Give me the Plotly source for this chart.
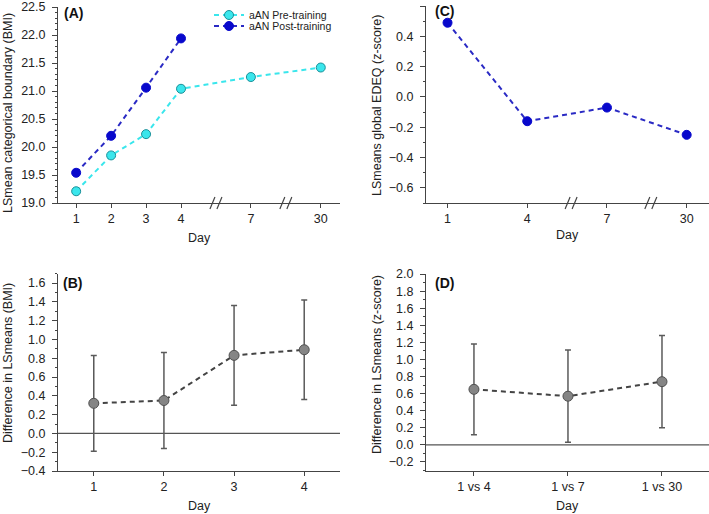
import plotly.graph_objects as go

# ---------------- data ----------------
# Panel A
days_A = ["1", "2", "3", "4", "7", "30"]
pre_training = [19.21, 19.85, 20.23, 21.04, 21.25, 21.42]
days_A_post = ["1", "2", "3", "4"]
post_training = [19.54, 20.20, 21.06, 21.94]

# Panel B
days_B = ["1", "2", "3", "4"]
diff_B = [0.32, 0.35, 0.83, 0.89]
diff_B_low = [-0.19, -0.16, 0.30, 0.36]
diff_B_high = [0.83, 0.86, 1.36, 1.42]

# Panel C
days_C = ["1", "4", "7", "30"]
edeq_C = [0.49, -0.16, -0.07, -0.25]

# Panel D
comp_D = ["1 vs 4", "1 vs 7", "1 vs 30"]
diff_D = [0.65, 0.57, 0.74]
diff_D_low = [0.12, 0.03, 0.20]
diff_D_high = [1.18, 1.11, 1.28]

# broken-axis slot layout (slots left empty are axis breaks)
slots_A = ["1", "2", "3", "4", None, "7", None, "30"]


def slot_scale(slots):
    pos = {}
    p = 1
    for s in slots:
        if s is not None:
            pos[s] = p
        p += 1
    breaks = [i + 1 for i, s in enumerate(slots) if s is None]
    return pos, breaks


posA, breaksA = slot_scale(slots_A)
posC = {d: i + 1 for i, d in enumerate(days_C)}
breaksC = [2.55, 3.55]

FONT = "Arial, 'Liberation Sans', sans-serif"
AXC = "#444444"
CYAN = "#3ae6ec"
CYAN_EDGE = "#1a9099"
BLUE = "#0808cc"
BLUE_LINE = "#2a2ac4"
GREY = "#858585"
GREY_EDGE = "#505050"
DASH = "5px,4px"

W, H = 709, 514


def px_x(a, b):
    return [a / W, b / W]


def px_y(top, bottom):
    return [1 - bottom / H, 1 - top / H]


def pxp(x, y):
    return x / W, 1 - y / H


fig = go.Figure()

# Panel A
fig.add_trace(go.Scatter(
    x=[posA[d] for d in days_A], y=pre_training, name="aAN Pre-training",
    mode="lines+markers", xaxis="x", yaxis="y", legend="legend",
    line=dict(color=CYAN, width=2, dash=DASH),
    marker=dict(size=9, color=CYAN, line=dict(color=CYAN_EDGE, width=1)),
))
fig.add_trace(go.Scatter(
    x=[posA[d] for d in days_A_post], y=post_training, name="aAN Post-training",
    mode="lines+markers", xaxis="x", yaxis="y", legend="legend2",
    line=dict(color=BLUE_LINE, width=2, dash=DASH),
    marker=dict(size=9, color=BLUE, line=dict(color=BLUE, width=1)),
))

# Panel B
fig.add_trace(go.Scatter(
    x=[int(d) for d in days_B], y=diff_B, mode="lines+markers", showlegend=False,
    xaxis="x2", yaxis="y2",
    line=dict(color="#444444", width=2, dash=DASH),
    marker=dict(size=10, color=GREY, line=dict(color=GREY_EDGE, width=1)),
    error_y=dict(type="data", symmetric=False,
                 array=[h - v for h, v in zip(diff_B_high, diff_B)],
                 arrayminus=[v - l for v, l in zip(diff_B, diff_B_low)],
                 color="#5a5a5a", thickness=1.5, width=3),
))

# Panel C
fig.add_trace(go.Scatter(
    x=[posC[d] for d in days_C], y=edeq_C, mode="lines+markers", showlegend=False,
    xaxis="x3", yaxis="y3",
    line=dict(color=BLUE_LINE, width=2, dash=DASH),
    marker=dict(size=9, color=BLUE, line=dict(color=BLUE, width=1)),
))

# Panel D
fig.add_trace(go.Scatter(
    x=comp_D, y=diff_D, mode="lines+markers", showlegend=False,
    xaxis="x4", yaxis="y4",
    line=dict(color="#444444", width=2, dash=DASH),
    marker=dict(size=10, color=GREY, line=dict(color=GREY_EDGE, width=1)),
    error_y=dict(type="data", symmetric=False,
                 array=[h - v for h, v in zip(diff_D_high, diff_D)],
                 arrayminus=[v - l for v, l in zip(diff_D, diff_D_low)],
                 color="#5a5a5a", thickness=1.5, width=3),
))

tickfont = dict(family=FONT, size=12.5, color="#222222")


def xaxis(domain, anchor, **kw):
    d = dict(domain=domain, anchor=anchor, showline=True, linecolor=AXC, linewidth=1,
             ticks="outside", ticklen=4, tickcolor=AXC, showgrid=False, zeroline=False,
             tickfont=tickfont, automargin=False, fixedrange=True)
    d.update(kw)
    return d


def yaxis(domain, anchor, rng, dtick, minor, **kw):
    d = dict(domain=domain, anchor=anchor, range=rng, dtick=dtick, tick0=0,
             showline=True, linecolor=AXC, linewidth=1,
             ticks="outside", ticklen=5, tickcolor=AXC, showgrid=False, zeroline=False,
             tickfont=tickfont, automargin=False, fixedrange=True, ticklabelstandoff=4,
             minor=dict(dtick=minor, ticks="outside", ticklen=2.5, tickcolor=AXC, showgrid=False))
    d.update(kw)
    return d


lx1, ly1 = pxp(209, 15)
lx2, ly2 = pxp(209, 26)
legfont = dict(family=FONT, size=10.5, color="#222222")

fig.update_layout(
    width=W, height=H, margin=dict(l=0, r=0, t=0, b=0),
    paper_bgcolor="white", plot_bgcolor="white",
    font=dict(family=FONT, size=12, color="#222222"),
    xaxis=xaxis(px_x(58, 340), "y", range=[0.48, 8.55], tickmode="array",
                tickvals=[posA[d] for d in days_A], ticktext=days_A),
    yaxis=yaxis(px_y(7, 203), "x", [19.0, 22.501], 0.5, 0.1, tickformat=".1f"),
    xaxis2=xaxis(px_x(58, 340), "y2", range=[0.49, 4.51], tickmode="array",
                 tickvals=[int(d) for d in days_B], ticktext=days_B),
    yaxis2=yaxis(px_y(273.6, 471), "x2", [-0.4, 1.7], 0.2, 0.1, tickformat=".1f"),
    xaxis3=xaxis(px_x(426, 709), "y3", range=[0.73, 4.28], tickmode="array",
                 tickvals=[posC[d] for d in days_C], ticktext=days_C),
    yaxis3=yaxis(px_y(6, 203), "x3", [-0.7, 0.6005], 0.2, 0.1, tickformat=".1f"),
    xaxis4=xaxis(px_x(426, 709), "y4", type="category", range=[-0.51, 2.5]),
    yaxis4=yaxis(px_y(274, 470.5), "x4", [-0.3, 2.0005], 0.2, 0.1, tickformat=".1f"),
    legend=dict(x=lx1, y=ly1, xanchor="left", yanchor="middle", font=legfont,
                bgcolor="rgba(0,0,0,0)", itemwidth=30),
    legend2=dict(x=lx2, y=ly2, xanchor="left", yanchor="middle", font=legfont,
                 bgcolor="rgba(0,0,0,0)", itemwidth=30),
    showlegend=True,
)

# zero reference lines in B and D
for xr, yr in (("x2 domain", "y2"), ("x4 domain", "y4")):
    fig.add_shape(type="line", xref=xr, yref=yr, x0=0, x1=1, y0=0, y1=0,
                  line=dict(color="#555555", width=1.2), layer="below")

# axis-break marks (double slashes)
for xr, yr, brks in (("x", "y domain", breaksA), ("x3", "y3 domain", breaksC)):
    for b in brks:
        for off in (-3.5, 3.5):
            fig.add_shape(type="line", xref=xr, yref=yr,
                          xsizemode="pixel", xanchor=b, x0=off - 2.5, x1=off + 2.5,
                          ysizemode="pixel", yanchor=0, y0=-6, y1=6,
                          line=dict(color=AXC, width=1.2))

# panel letters
for txt, xp, yp in (("(A)", 62, 13), ("(B)", 61, 283), ("(C)", 433, 11), ("(D)", 433, 283)):
    ax_, ay_ = pxp(xp, yp)
    fig.add_annotation(text=f"<b>{txt}</b>", x=ax_, y=ay_, xref="paper", yref="paper",
                       xanchor="left", yanchor="middle", showarrow=False,
                       font=dict(family=FONT, size=14, color="#111111"))

# axis titles
ytitles = (("LSmean categorical boundary (BMI)", 8, 113),
           ("Difference in LSmeans (BMI)", 8, 363),
           ("LSmeans global EDEQ (z-score)", 377, 105),
           ("Difference in LSmeans (z-score)", 377, 364))
for txt, xp, yp in ytitles:
    ax_, ay_ = pxp(xp, yp)
    fig.add_annotation(text=txt, x=ax_, y=ay_, xref="paper", yref="paper",
                       xanchor="center", yanchor="middle", textangle=-90, showarrow=False,
                       font=dict(family=FONT, size=12.5, color="#222222"))
for xp, yp in ((199, 238), (567, 235), (199, 506), (567, 506)):
    ax_, ay_ = pxp(xp, yp)
    fig.add_annotation(text="Day", x=ax_, y=ay_, xref="paper", yref="paper",
                       xanchor="center", yanchor="middle", showarrow=False,
                       font=dict(family=FONT, size=12.5, color="#222222"))

# the page's default 8px body margin would shift the figure; remove it
fig.write_html("out.html", config={"displayModeBar": False},
               post_script="document.body.style.margin='0';")
